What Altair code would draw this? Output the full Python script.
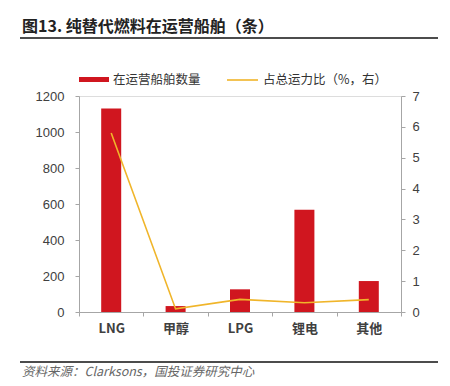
import altair as alt
import pandas as pd

categories = ["LNG", "甲醇", "LPG", "锂电", "其他"]
ship_counts = [1130, 33, 126, 568, 172]
capacity_share = [5.8, 0.1, 0.41, 0.30, 0.40]

title_text = "图13. 纯替代燃料在运营船舶（条）"
source_text = "资料来源：Clarksons，国投证券研究中心"
legend_bar = "在运营船舶数量"
legend_line = "占总运力比（%，右）"

RED = "#D0161F"
GOLD = "#F0B52A"
FONT = "Noto Sans CJK SC"

df = pd.DataFrame({"cat": categories, "count": ship_counts, "share": capacity_share})

W, H = 322, 216

x_enc = alt.X("cat:N", sort=categories, title=None,
              scale=alt.Scale(paddingInner=0, paddingOuter=0),
              axis=alt.Axis(labelAngle=0, tickBand="extent", domainColor="#A6A6A6",
                            tickColor="#A6A6A6", tickSize=4, labelPadding=6,
                            labelFontSize=13, labelColor="#404040", labelFont=FONT,
                            labelFontWeight="bold"))

bars = alt.Chart(df).mark_bar(color=RED, size=20).encode(
    x=x_enc,
    y=alt.Y("count:Q", title=None,
            scale=alt.Scale(domain=[0, 1200], nice=False),
            axis=alt.Axis(values=[0, 200, 400, 600, 800, 1000, 1200], orient="left",
                          format="d",
                          domainColor="#A6A6A6", tickColor="#A6A6A6", tickSize=4,
                          labelPadding=11, labelFontSize=13, labelColor="#404040",
                          grid=False, labelFont="Liberation Sans")),
)

line = alt.Chart(df).mark_line(color=GOLD, strokeWidth=1.6).encode(
    x=alt.X("cat:N", sort=categories),
    y=alt.Y("share:Q", title=None,
            scale=alt.Scale(domain=[0, 7], nice=False),
            axis=alt.Axis(values=[0, 1, 2, 3, 4, 5, 6, 7], orient="right",
                          domainColor="#A6A6A6", tickColor="#A6A6A6", tickSize=4,
                          labelPadding=7, labelFontSize=13, labelColor="#404040",
                          grid=False, labelFont="Liberation Sans")),
)

one = pd.DataFrame({"t": [title_text]})
title = alt.Chart(one).mark_text(align="left", baseline="middle", fontSize=16,
                                 fontWeight="bold", font=FONT, color="#222222").encode(
    x=alt.value(-57), y=alt.value(-69), text="t:N")
title_rule = alt.Chart(one).mark_rule(color="#111111", strokeWidth=1.5).encode(
    x=alt.value(-59), x2=alt.value(359), y=alt.value(-58))

src = pd.DataFrame({"t": [source_text]})
footer_rule = alt.Chart(src).mark_rule(color="#111111", strokeWidth=1.5).encode(
    x=alt.value(-59), x2=alt.value(359), y=alt.value(266))
footer = alt.Chart(src).mark_text(align="left", baseline="middle", fontSize=12.5,
                                  fontStyle="italic", font=FONT, color="#666666").encode(
    x=alt.value(-57), y=alt.value(276), text="t:N")

lg1 = pd.DataFrame({"t": [legend_bar]})
lg2 = pd.DataFrame({"t": [legend_line]})
leg_rect = alt.Chart(lg1).mark_rect(color=RED).encode(
    x=alt.value(0), x2=alt.value(30), y=alt.value(-19), y2=alt.value(-14))
leg_text1 = alt.Chart(lg1).mark_text(align="left", baseline="middle", fontSize=12.5,
                                     font=FONT, color="#333333").encode(
    x=alt.value(34), y=alt.value(-16), text="t:N")
leg_line = alt.Chart(lg2).mark_rule(color=GOLD, strokeWidth=1.6).encode(
    x=alt.value(148), x2=alt.value(179), y=alt.value(-16))
leg_text2 = alt.Chart(lg2).mark_text(align="left", baseline="middle", fontSize=12.5,
                                     font=FONT, color="#333333").encode(
    x=alt.value(184), y=alt.value(-16), text="t:N")

chart = alt.layer(
    bars, line, title, title_rule, footer_rule, footer,
    leg_rect, leg_text1, leg_line, leg_text2
).resolve_scale(y="independent").properties(
    width=W, height=H,
    autosize=alt.AutoSizeParams(type="none"),
    padding={"left": 71, "top": 88, "right": 41, "bottom": 74},
).configure_view(stroke=None).configure(background="white")

chart.save("out.html", embed_options={"renderer": "svg", "actions": False})
